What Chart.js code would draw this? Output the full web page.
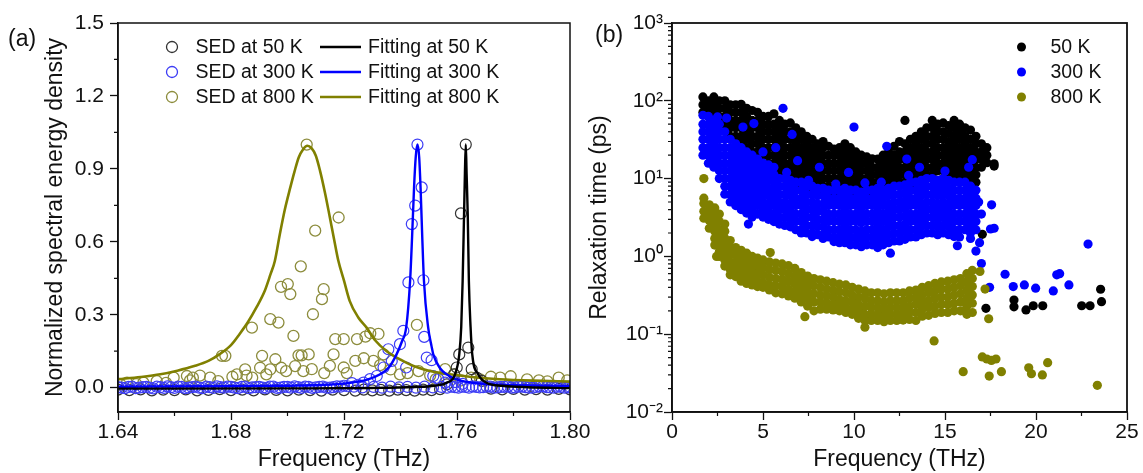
<!DOCTYPE html>
<html><head><meta charset="utf-8">
<script src="https://cdn.jsdelivr.net/npm/chart.js@4/dist/chart.umd.min.js"></script>
<style>
html,body{margin:0;padding:0;background:#fff;width:1143px;height:473px;overflow:hidden;}
#ca{position:absolute;left:0;top:0;width:600px;height:473px;}
#cb{position:absolute;left:580px;top:0;width:563px;height:473px;}
.lbl{position:absolute;font-family:"Liberation Sans",Arial,sans-serif;font-size:23px;line-height:1;color:#111;}
</style></head><body>
<canvas id="ca" width="600" height="473"></canvas>
<canvas id="cb" width="563" height="473"></canvas>
<div class="lbl" style="left:8px;top:27px">(a)</div>
<div class="lbl" style="left:595px;top:23px">(b)</div>
<script>
// ---------- Panel (a) ----------
const xTicksA = [1.64, 1.68, 1.72, 1.76, 1.80];
const xTickLabelsA = ['1.64', '1.68', '1.72', '1.76', '1.80'];
const xMinorA = [1.66, 1.70, 1.74, 1.78];
const yTicksA = [0, 0.3, 0.6, 0.9, 1.2, 1.5];
const yTickLabelsA = ['0.0', '0.3', '0.6', '0.9', '1.2', '1.5'];
const yMinorA = [0.15, 0.45, 0.75, 1.05, 1.35];
const legendA = ['SED at 50 K', 'Fitting at 50 K', 'SED at 300 K', 'Fitting at 300 K', 'SED at 800 K', 'Fitting at 800 K'];

const sed50 = [[1.640,-0.008],[1.644,-0.01],[1.648,-0.007],[1.652,-0.011],[1.656,-0.008],[1.660,-0.01],[1.664,-0.007],[1.668,-0.011],[1.672,-0.009],[1.676,-0.006],[1.680,-0.01],[1.684,-0.008],[1.688,-0.011],[1.692,-0.007],[1.696,-0.009],[1.700,-0.011],[1.704,-0.008],[1.708,-0.01],[1.712,-0.012],[1.716,-0.008],[1.720,-0.01],[1.724,-0.012],[1.727,-0.008],[1.730,-0.011],[1.733,-0.009],[1.736,-0.012],[1.739,-0.008],[1.742,-0.01],[1.745,-0.012],[1.748,-0.008],[1.751,-0.01],[1.754,-0.006],
 [1.7564,0.014],[1.759,0.055],[1.7599,0.083],[1.7608,0.137],[1.7614,0.717],[1.7631,1.0],[1.764,0.165],[1.7652,0.076],[1.767,0.041],[1.7688,0.028],
 [1.772,-0.004],[1.776,-0.007],[1.780,-0.005],[1.784,-0.008],[1.788,-0.006],[1.792,-0.008],[1.796,-0.005],[1.800,-0.007]];

const sed300 = [[1.640,0.002],[1.6425,-0.002],[1.645,0.004],[1.6475,0.0],[1.650,0.003],[1.6525,-0.003],[1.655,0.002],[1.6575,0.005],[1.660,-0.001],[1.6625,0.003],[1.665,0.0],[1.6675,0.004],[1.670,-0.002],[1.6725,0.002],[1.675,0.005],[1.6775,0.0],[1.680,0.003],[1.6825,-0.002],[1.685,0.004],[1.6875,0.001],[1.690,0.003],[1.6925,-0.001],[1.695,0.004],[1.6975,0.0],[1.700,0.003],[1.7025,0.005],[1.705,-0.001],[1.7075,0.003],[1.710,0.001],[1.7125,0.004],[1.715,0.0],[1.7175,0.005],[1.720,0.008],
 [1.64125,0.0],[1.64375,0.003],[1.64625,-0.002],[1.64875,0.002],[1.65125,0.0],[1.65375,0.004],[1.65625,-0.001],[1.65875,0.002],[1.66125,0.004],[1.66375,-0.002],[1.66625,0.002],[1.66875,0.0],[1.67125,0.004],[1.67375,-0.001],[1.67625,0.002],[1.67875,0.004],[1.68125,0.0],[1.68375,0.003],[1.68625,-0.002],[1.68875,0.002],[1.69125,0.0],[1.69375,0.004],[1.69625,-0.001],[1.69875,0.003],[1.70125,0.0],[1.70375,0.002],[1.70625,0.004],[1.70875,-0.001],[1.71125,0.003],[1.71375,0.0],[1.71625,0.002],[1.71875,0.004],[1.72125,0.006],
 [1.7228,0.019],[1.725,0.012],[1.7269,0.021],[1.7292,0.035],[1.7316,0.048],[1.734,0.083],[1.7357,0.158],[1.7369,0.11],[1.7398,0.179],[1.741,0.234],[1.742,0.083],[1.7428,0.433],[1.744,0.673],[1.7452,0.749],[1.746,1.0],[1.7475,0.824],[1.7481,0.442],[1.7484,0.209],[1.7493,0.124],[1.751,0.113],[1.7516,0.048],[1.7534,0.035],[1.7558,0.021],[1.7594,0.023],[1.762,0.016],
 [1.7235,0.004],[1.7265,0.001],[1.7305,0.003],[1.7335,0.0],[1.7365,0.004],[1.7395,0.001],[1.7425,0.003],[1.7455,0.0],[1.7485,0.004],[1.7515,0.001],[1.7545,0.003],[1.7565,0.0],
 [1.758,0.004],[1.7605,0.0],[1.763,0.003],[1.7655,0.005],[1.768,0.001],[1.7705,0.004],[1.773,0.0],[1.7755,0.003],[1.778,0.005],[1.7805,0.001],[1.783,0.004],[1.7855,0.0],[1.788,0.003],[1.7905,0.005],[1.793,0.001],[1.7955,0.004],[1.798,0.0],[1.800,0.003],
 [1.75925,0.002],[1.76175,0.004],[1.76425,0.0],[1.76675,0.003],[1.76925,0.002],[1.77175,0.004],[1.77425,0.001],[1.77675,0.003],[1.77925,0.0],[1.78175,0.004],[1.78425,0.002],[1.78675,0.0],[1.78925,0.004],[1.79175,0.002],[1.79425,0.0],[1.79675,0.003],[1.79925,0.001]];

const sed800 = [[1.641,0.012],[1.6432,0.021],[1.6465,0.015],[1.649,0.021],[1.6537,0.027],[1.657,0.02],[1.6597,0.041],[1.6644,0.048],[1.6655,0.03],[1.6665,0.041],[1.669,0.05],[1.6726,0.041],[1.6755,0.027],[1.6768,0.131],[1.678,0.131],[1.6805,0.045],[1.6821,0.055],[1.685,0.075],[1.6855,0.05],[1.6874,0.247],[1.6875,0.041],[1.691,0.131],[1.6903,0.082],[1.6925,0.055],[1.6939,0.282],[1.6939,0.075],[1.6957,0.117],[1.6968,0.268],[1.6977,0.415],[1.6978,0.082],[1.6995,0.068],[1.7001,0.426],[1.701,0.385],[1.7021,0.213],[1.7027,0.089],[1.7039,0.133],[1.7047,0.499],[1.705,0.133],[1.7056,0.068],[1.7068,1.0],[1.7075,0.137],[1.7086,0.076],[1.709,0.302],[1.7098,0.646],[1.7122,0.364],[1.7128,0.405],[1.713,0.06],[1.715,0.09],[1.7163,0.137],[1.7169,0.2],[1.7181,0.70],[1.7199,0.2],[1.7199,0.083],[1.721,0.06],[1.724,0.11],[1.7246,0.2],[1.727,0.121],[1.7276,0.21],[1.7293,0.224],[1.7304,0.11],[1.7322,0.221],[1.7328,0.093],[1.734,0.137],[1.7365,0.075],[1.7398,0.055],[1.7425,0.06],[1.7458,0.258],[1.7464,0.068],[1.7505,0.05],[1.7525,0.035],[1.7558,0.076],[1.759,0.055],[1.7615,0.03],[1.765,0.041],[1.7682,0.034],[1.772,0.045],[1.7753,0.041],[1.779,0.047],[1.7848,0.034],[1.789,0.03],[1.792,0.026],[1.796,0.041],[1.799,0.03]];

const fit50 = [[1.640,-0.004],[1.700,-0.003],[1.730,-0.001],[1.745,0.003],[1.752,0.008],[1.7563,0.02],[1.7593,0.055],[1.7608,0.137],[1.7615,0.25],[1.7620,0.44],[1.7625,0.714],[1.7628,0.88],[1.7631,1.0],[1.7634,0.88],[1.7638,0.714],[1.7642,0.44],[1.7648,0.25],[1.7654,0.137],[1.7675,0.055],[1.7705,0.02],[1.776,0.008],[1.785,0.002],[1.800,-0.002]];
const fit300 = [[1.640,0.004],[1.680,0.006],[1.700,0.008],[1.712,0.011],[1.722,0.02],[1.728,0.032],[1.7328,0.055],[1.736,0.085],[1.7386,0.137],[1.7405,0.19],[1.742,0.247],[1.7434,0.44],[1.7441,0.62],[1.7448,0.824],[1.7454,0.95],[1.7460,1.0],[1.7466,0.95],[1.7471,0.824],[1.7477,0.62],[1.7483,0.44],[1.7498,0.247],[1.751,0.17],[1.7516,0.137],[1.754,0.08],[1.7563,0.055],[1.760,0.033],[1.7657,0.02],[1.775,0.012],[1.790,0.008],[1.800,0.006]];
const fit800 = [[1.640,0.035],[1.648,0.044],[1.655,0.055],[1.661,0.07],[1.667,0.089],[1.672,0.11],[1.676,0.138],[1.680,0.175],[1.683,0.22],[1.686,0.27],[1.689,0.33],[1.692,0.40],[1.694,0.467],[1.6955,0.52],[1.6973,0.632],[1.699,0.73],[1.701,0.824],[1.7025,0.89],[1.704,0.948],[1.7055,0.98],[1.707,0.995],[1.7085,0.985],[1.710,0.955],[1.7115,0.893],[1.7133,0.80],[1.715,0.70],[1.7165,0.61],[1.718,0.522],[1.720,0.44],[1.722,0.357],[1.725,0.29],[1.728,0.247],[1.731,0.195],[1.735,0.151],[1.740,0.115],[1.7446,0.089],[1.750,0.07],[1.7575,0.055],[1.766,0.043],[1.775,0.035],[1.787,0.029],[1.800,0.025]];

// ---------- Panel (b) ----------
const xTicksB = [0, 5, 10, 15, 20, 25];
const xTickLabelsB = ['0', '5', '10', '15', '20', '25'];
const xMinorB = [2.5, 7.5, 12.5, 17.5, 22.5];
const yTicksB = [0.01, 0.1, 1, 10, 100, 1000];
const yTickLabelsB = ['10\u207B\u00B2', '10\u207B\u00B9', '10\u2070', '10\u00B9', '10\u00B2', '10\u00B3'];
const yMinorB = [0.02,0.03,0.04,0.05,0.06,0.07,0.08,0.09,0.2,0.3,0.4,0.5,0.6,0.7,0.8,0.9,2,3,4,5,6,7,8,9,20,30,40,50,60,70,80,90,200,300,400,500,600,700,800,900];
const legendB = ['50 K', '300 K', '800 K'];

// columns: [frequency, relaxation times...]
const tau50Cols = [
[1.7,112,89,71],[2.0,100,80,63],[2.3,112,89,71,56],[2.6,100,80,63,50],[2.9,100,80,63,50],
[3.2,89,71,56,45,35],[3.5,89,71,56,45,35],[3.8,90,71,56,45,35,28],[4.1,80,63,50,40,32,25],
[4.4,75,56,45,35,28,22],[4.7,71,56,45,35,28,22,17.8],[5.0,63,50,40,32,25,20,15.8],
[5.3,63,50,40,32,25,20,15.8],[5.6,68,50,40,32,25,20,15.8,12.6],[5.9,56,45,35,28,22,17.8,14,11.2],
[6.2,50,40,32,25,20,15.8,12.6,10],[6.5,52,40,32,25,20,15.8,12.6,10],[6.8,45,35,28,22,17.8,14,11.2,9],
[7.1,40,32,25,20,15.8,12.6,10,8],[7.4,35,28,22,17.8,14,11.2,9,7.1],[7.7,32,25,20,15.8,12.6,10,8],
[8.0,28,22,17.8,14,11.2,9,7.1],[8.3,30,25,20,15.8,12.6,10,8],[8.6,26,20,15.8,12.6,10,8,6.3],
[8.9,24,20,15.8,12.6,10,8,6.3],[9.2,25,20,15.8,12.6,10,8,6.3],[9.5,28,22,17.8,14,11.2,9,7.1],
[9.8,25,20,15.8,12.6,10,8,6.3],[10.1,22,17.8,14,11.2,9,7.1,5.6],[10.4,20,15.8,12.6,10,8,6.3],
[10.7,19,15.8,12.6,10,8,6.3],[11.0,18,14,11.2,9,7.1,5.6],[11.3,17.8,14,11.2,9,7.1,5.6],
[11.6,20,15.8,12.6,10,8,6.3],[11.9,24,19,15,12,9.5,7.5],[12.2,26,20,15.8,12.6,10,8],
[12.5,30,22,17.8,14,11.2,9],[12.8,28,22,17.8,14,11.2,9],[13.1,32,25,20,15.8,12.6,10,8],
[13.4,35,28,22,17.8,14,11.2,9],[13.7,40,32,25,20,15.8,12.6,10],[14.0,45,35,28,22,17.8,14,11.2],
[14.3,56,45,35,28,22,17.8,14,11.2],[14.6,50,40,32,25,20,15.8,12.6],[14.9,52,40,32,25,20,15.8,12.6,10],
[15.2,48,38,30,24,19,15,12,9.5],[15.5,56,45,35,28,22,17.8,14,11.2],[15.8,50,40,32,25,20,15.8,12.6,10],
[16.1,45,35,28,22,17.8,14,11.2,9],[16.4,42,32,25,20,15.8,12.6,10],[16.7,35,28,22,17.8,14,11.2,9],
[17.0,28,22,17.8,14],[17.3,25,20,16],[17.7,14.5,15.5]];
const tau50Extra = [[12.8,56],[17.05,1.92],[17.25,0.215],[18.79,0.275],[18.79,0.225],[19.45,0.205],[19.85,0.232],[20.37,0.232],[22.51,0.232],[22.97,0.232],[23.55,0.378],[23.6,0.262]];

const tau300Cols = [
[1.7,65,50,40,32,25,20],[2.0,63,50,40,32,25,20,15.8],[2.3,56,45,35,28,22,17.8,14],
[2.6,50,40,32,25,20,15.8,12.6,10],[2.9,40,32,25,20,15.8,12.6,10,8,6.3],[3.2,32,25,20,15.8,12.6,10,8,6.3,5],
[3.5,28,22,17.8,14,11.2,9,7.1,5.6,4.5],[3.8,25,20,15.8,12.6,10,8,6.3,5,4],[4.1,22,17.8,14,11.2,9,7.1,5.6,4.5,3.6],
[4.4,20,15.8,12.6,10,8,6.3,5,4,3.2],[4.7,17.8,14,11.2,9,7.1,5.6,4.5,3.5],[5.0,15.8,12.6,10,8,6.3,5,4,3.2],
[5.3,15,12,9.5,7.5,6,4.7,3.8,3],[5.6,14,11.2,9,7.1,5.6,4.5,3.5,2.8],[5.9,10,8,6.3,5,4,3.2,2.6],
[6.2,10,8,6.3,5,4,3.2,2.5],[6.5,9.5,7.5,6,4.7,3.8,3,2.4],[6.8,9,7.1,5.6,4.5,3.5,2.8,2.2],
[7.1,9,7.1,5.6,4.5,3.5,2.8,2.2,2],[7.4,8,6.3,5,4,3.2,2.5,2],[7.7,8,6.3,5,4,3.2,2.5,2,1.8],
[8.0,7.5,6,4.7,3.8,3,2.4,1.9],[8.3,7.5,6,4.7,3.8,3,2.4,1.9,1.7],[8.6,7.1,5.6,4.5,3.5,2.8,2.2,1.78],
[8.9,7.1,5.6,4.5,3.5,2.8,2.2,1.78,1.55],[9.2,7.1,5.6,4.5,3.5,2.8,2.2,1.78,1.5],[9.5,7.5,6,4.7,3.8,3,2.4,1.9,1.5],
[9.8,7.1,5.6,4.5,3.5,2.8,2.2,1.78,1.41],[10.1,7.1,5.6,4.5,3.5,2.8,2.2,1.78,1.41],[10.4,6.7,5.3,4.2,3.3,2.7,2.1,1.68,1.33],
[10.7,7.1,5.6,4.5,3.5,2.8,2.2,1.78,1.41],[11.0,7.1,5.6,4.5,3.5,2.8,2.2,1.78,1.41],[11.3,7.5,6,4.7,3.8,3,2.4,1.9,1.5,1.3],
[11.6,7.1,5.6,4.5,3.5,2.8,2.2,1.78,1.41],[11.9,7.5,6,4.7,3.8,3,2.4,1.9,1.5],[12.2,8,6.3,5,4,3.2,2.5,2,1.58],
[12.5,8,6.3,5,4,3.2,2.5,2,1.58],[12.8,8.3,6.6,5.2,4.2,3.3,2.6,2.1,1.66],[13.1,9,7.1,5.6,4.5,3.5,2.8,2.2,1.78],
[13.4,9,7.1,5.6,4.5,3.5,2.8,2.2,1.78],[13.7,9.5,7.5,6,4.7,3.8,3,2.4,1.9],[14.0,10,8,6.3,5,4,3.2,2.5,2],
[14.3,10,8,6.3,5,4,3.2,2.5,2],[14.6,9.5,7.5,6,4.7,3.8,3,2.4,1.9],[14.9,10,8,6.3,5,4,3.2,2.5,2],
[15.2,9.5,7.5,6,4.7,3.8,3,2.4,1.9],[15.5,9,7.1,5.6,4.5,3.5,2.8,2.2,1.8],[15.8,9,7.1,5.6,4.5,3.5,2.8,2.2,1.78],
[16.1,9,7.1,5.6,4.5,3.5,2.8,2.2],[16.4,8,6.3,5,4,3.2,2.5,2,1.7],[16.7,7.1,5.6,4.5,3.5,2.8,2.2]];
const tau300Extra = [[1.8,22],[6.1,80],[4.5,51],[10.0,46],[3.9,46],[5.0,22],[6.6,37],[11.8,26],[16.5,17.5],[12.9,17.8],[6.9,17],[4.2,2.6],[3.0,60],[2.5,62],[5.7,25],[8.1,14],[9.7,12],[13.6,14],[16.3,14],[7.5,9.5],[9.0,8.5],[10.6,8.8],[11.5,9],[13.0,11],[15.0,12.5],[6.3,12],[12.0,1.1],[15.68,1.37],[16.7,1.17],[17.0,0.81],[16.9,1.5],[16.85,5],[17.0,3.5],[17.56,4.6],[17.5,2.25],[17.7,2.3],[17.45,0.40],[18.3,0.59],[18.75,0.41],[19.36,0.43],[19.98,0.39],[20.95,0.36],[21.14,0.58],[21.3,0.6],[21.81,0.43],[22.86,1.44]];

const tau800Cols = [
[1.75,10,5.6,4.8,3.8,3.1],[2.05,4.6,3.7,2.9,2.3],[2.35,4.2,3.3,2.6,2.1,1.7,1.4],
[2.6,3.5,2.8,2.2,1.8,1.45,1.15,1.0],[2.9,2.6,2.1,1.7,1.35,1.1,0.9,0.75],[3.2,1.6,1.3,1.05,0.85,0.68,0.58],
[3.5,1.3,1.05,0.85,0.68,0.55],[3.8,1.2,0.95,0.76,0.6,0.48],[4.1,1.1,0.88,0.7,0.56,0.45],
[4.4,1.0,0.8,0.64,0.52,0.43],[4.7,0.95,0.76,0.6,0.48,0.41],[5.0,0.9,0.72,0.58,0.46,0.4],
[5.35,0.85,0.68,0.54,0.43,0.37],[5.7,0.82,0.66,0.52,0.42,0.34],[6.05,0.8,0.64,0.51,0.41,0.33],
[6.4,0.76,0.6,0.48,0.38,0.31],[6.75,0.7,0.56,0.45,0.36,0.29],[7.1,0.62,0.5,0.4,0.32,0.26],
[7.45,0.56,0.45,0.36,0.29,0.23],[7.8,0.52,0.42,0.33,0.26,0.2],[8.15,0.5,0.4,0.32,0.26,0.21],
[8.5,0.48,0.38,0.31,0.25,0.21],[8.85,0.46,0.37,0.3,0.24,0.205],[9.2,0.44,0.35,0.28,0.23,0.2],
[9.55,0.43,0.34,0.27,0.22,0.19],[9.9,0.4,0.32,0.26,0.21,0.18],[10.25,0.38,0.3,0.24,0.2,0.16],
[10.6,0.36,0.29,0.23,0.18,0.15,0.123],[10.95,0.34,0.27,0.22,0.18,0.15],[11.3,0.34,0.27,0.22,0.18,0.15],
[11.65,0.33,0.26,0.21,0.17,0.145],[12.0,0.34,0.27,0.22,0.18,0.15],[12.35,0.34,0.27,0.22,0.18,0.15],
[12.7,0.34,0.27,0.22,0.18,0.152],[13.05,0.36,0.29,0.23,0.19,0.155],[13.4,0.37,0.3,0.24,0.19,0.15],
[13.75,0.4,0.32,0.26,0.21,0.17],[14.1,0.42,0.34,0.27,0.22,0.175],[14.45,0.45,0.36,0.29,0.23,0.185],
[14.8,0.47,0.38,0.3,0.24,0.19],[15.15,0.48,0.38,0.3,0.24,0.19],[15.5,0.5,0.4,0.32,0.25,0.2],
[15.85,0.52,0.42,0.33,0.26,0.2],[16.2,0.6,0.47,0.37,0.29,0.23,0.18],[16.5,0.66,0.52,0.41,0.32,0.25,0.19]];
const tau800Extra = [[2.45,1.0],[5.4,1.12],[7.3,0.168],[16.92,0.64],[17.2,0.38],[17.4,0.158],[14.4,0.082],[17.05,0.051],[17.3,0.048],[17.55,0.046],[17.8,0.048],[16.0,0.033],[17.43,0.029],[18.1,0.033],[19.6,0.037],[19.75,0.031],[20.35,0.030],[20.64,0.043],[23.37,0.022]];

// ---------- helpers ----------
const FONT = '"Liberation Sans", Arial, Helvetica, sans-serif';
const INK = '#111';
Chart.defaults.font.family = FONT;
Chart.defaults.font.size = 21;
Chart.defaults.color = INK;
const pairs = a => a.map(([x, y]) => ({x, y}));
const cols = a => a.flatMap(([x, ...ys]) => ys.map(y => ({x, y})));

const framePlugin = {
  id: 'frame',
  afterDraw(chart, args, o) {
    const {ctx, chartArea: a} = chart;
    const xs = chart.scales.x, ys = chart.scales.y;
    ctx.save();
    ctx.strokeStyle = INK;
    ctx.lineWidth = 1.2;
    ctx.beginPath();
    o.xMinor.forEach(v => { const p = xs.getPixelForValue(v); ctx.moveTo(p, a.bottom); ctx.lineTo(p, a.bottom + o.len); });
    o.yMinor.forEach(v => { const p = ys.getPixelForValue(v); ctx.moveTo(a.left, p); ctx.lineTo(a.left - o.len, p); });
    ctx.stroke();
    ctx.lineWidth = o.lw;
    ctx.strokeRect(a.left, a.top, a.right - a.left, a.bottom - a.top);
    ctx.restore();
  }
};
const legendPlugin = {
  id: 'panelLegend',
  afterDraw(chart, args, o) {
    const ctx = chart.ctx;
    ctx.save();
    ctx.font = o.size + 'px ' + FONT;
    ctx.textBaseline = 'middle';
    ctx.textAlign = 'left';
    o.items.forEach(it => {
      ctx.strokeStyle = it.color; ctx.fillStyle = it.color;
      if (it.kind === 'ring') {
        ctx.lineWidth = 1.3; ctx.beginPath(); ctx.arc(it.x, it.y, 5.5, 0, Math.PI * 2); ctx.stroke();
      } else if (it.kind === 'dot') {
        ctx.beginPath(); ctx.arc(it.x, it.y, 4.5, 0, Math.PI * 2); ctx.fill();
      } else {
        ctx.lineWidth = 2.5; ctx.beginPath(); ctx.moveTo(it.x, it.y); ctx.lineTo(it.x2, it.y); ctx.stroke();
      }
      ctx.fillStyle = INK;
      ctx.fillText(it.text, it.tx, it.y + 1);
    });
    ctx.restore();
  }
};
const axisCommon = (extra) => Object.assign({
  grid: {drawOnChartArea: false, drawTicks: true, tickLength: 8, tickColor: INK, tickWidth: 1.3},
  border: {display: true, color: INK, width: 1.5}
}, extra);

const BLK = '#000000', BLU = '#0000ff', OLV = '#808000';

// ---------- chart (a) ----------
new Chart(document.getElementById('ca'), {
  type: 'scatter',
  data: {datasets: [
    {label: legendA[0], data: pairs(sed50), pointRadius: 5.5, pointBorderWidth: 1.2, pointBorderColor: '#333333', pointBackgroundColor: 'rgba(0,0,0,0)', order: 6, clip: 0},
    {label: legendA[2], data: pairs(sed300), pointRadius: 5.5, pointBorderWidth: 1.2, pointBorderColor: '#3c3cf5', pointBackgroundColor: 'rgba(0,0,0,0)', order: 5, clip: 0},
    {label: legendA[4], data: pairs(sed800), pointRadius: 5.5, pointBorderWidth: 1.3, pointBorderColor: '#8c8c3c', pointBackgroundColor: 'rgba(0,0,0,0)', order: 7, clip: 0},
    {label: legendA[5], data: pairs(fit800), showLine: true, pointRadius: 0, borderColor: OLV, borderWidth: 2.6, cubicInterpolationMode: 'monotone', order: 3},
    {label: legendA[3], data: pairs(fit300), showLine: true, pointRadius: 0, borderColor: BLU, borderWidth: 2.4, cubicInterpolationMode: 'monotone', order: 2},
    {label: legendA[1], data: pairs(fit50), showLine: true, pointRadius: 0, borderColor: BLK, borderWidth: 2.4, cubicInterpolationMode: 'monotone', order: 1}
  ]},
  options: {
    responsive: false, animation: false, events: [],
    layout: {padding: {top: 23, right: 30, left: 0, bottom: 0}},
    plugins: {
      legend: {display: false}, tooltip: {enabled: false},
      frame: {xMinor: xMinorA, yMinor: yMinorA, len: 4, lw: 1.5},
      panelLegend: {size: 19.5, items: [
        {kind: 'ring', color: '#333333', x: 172, y: 47, tx: 195.5, text: legendA[0]},
        {kind: 'line', color: BLK, x: 320, x2: 361, y: 47, tx: 368, text: legendA[1]},
        {kind: 'ring', color: '#3c3cf5', x: 172, y: 72, tx: 195.5, text: legendA[2]},
        {kind: 'line', color: BLU, x: 320, x2: 361, y: 72, tx: 368, text: legendA[3]},
        {kind: 'ring', color: '#8c8c3c', x: 172, y: 97, tx: 195.5, text: legendA[4]},
        {kind: 'line', color: OLV, x: 320, x2: 361, y: 97, tx: 368, text: legendA[5]}
      ]}
    },
    scales: {
      x: axisCommon({type: 'linear', min: 1.64, max: 1.80,
        afterBuildTicks: s => { s.ticks = xTicksA.map(v => ({value: v})); },
        afterFit: s => { s.height = 61; },
        ticks: {callback: (v, i) => xTickLabelsA[i], padding: 0, maxRotation: 0, autoSkip: false},
        title: {display: true, text: 'Frequency (THz)', font: {size: 23}, padding: {top: 0, bottom: 0}}}),
      y: axisCommon({type: 'linear', min: -0.1, max: 1.5,
        afterBuildTicks: s => { s.ticks = yTicksA.map(v => ({value: v})); },
        afterFit: s => { s.width = 118; },
        ticks: {callback: (v, i) => yTickLabelsA[i], padding: 6, autoSkip: false},
        title: {display: true, text: 'Normalized spectral energy density', font: {size: 23}, padding: {top: 42, bottom: 0}}})
    }
  },
  plugins: [framePlugin, legendPlugin]
});

// ---------- chart (b) ----------
new Chart(document.getElementById('cb'), {
  type: 'scatter',
  data: {datasets: [
    {label: legendB[0], data: cols(tau50Cols).concat(pairs(tau50Extra)), pointRadius: 4.6, pointBorderWidth: 0, pointBackgroundColor: BLK, pointBorderColor: BLK, order: 3},
    {label: legendB[1], data: cols(tau300Cols).concat(pairs(tau300Extra)), pointRadius: 4.6, pointBorderWidth: 0, pointBackgroundColor: BLU, pointBorderColor: BLU, order: 2},
    {label: legendB[2], data: cols(tau800Cols).concat(pairs(tau800Extra)), pointRadius: 4.6, pointBorderWidth: 0, pointBackgroundColor: OLV, pointBorderColor: OLV, order: 1}
  ]},
  options: {
    responsive: false, animation: false, events: [],
    layout: {padding: {top: 23, right: 16, left: 0, bottom: 0}},
    plugins: {
      legend: {display: false}, tooltip: {enabled: false},
      frame: {xMinor: xMinorB, yMinor: yMinorB, len: 4, lw: 1.8},
      panelLegend: {size: 19.5, items: [
        {kind: 'dot', color: BLK, x: 441.5, y: 47, tx: 470.5, text: legendB[0]},
        {kind: 'dot', color: BLU, x: 441.5, y: 72, tx: 470.5, text: legendB[1]},
        {kind: 'dot', color: OLV, x: 441.5, y: 97, tx: 470.5, text: legendB[2]}
      ]}
    },
    scales: {
      x: axisCommon({type: 'linear', min: 0, max: 25,
        afterBuildTicks: s => { s.ticks = xTicksB.map(v => ({value: v})); },
        afterFit: s => { s.height = 61; },
        ticks: {callback: (v, i) => xTickLabelsB[i], padding: 0, maxRotation: 0, autoSkip: false},
        title: {display: true, text: 'Frequency (THz)', font: {size: 23}, padding: {top: 0, bottom: 0}}}),
      y: axisCommon({type: 'logarithmic', min: 0.01, max: 1000,
        afterBuildTicks: s => { s.ticks = yTicksB.map(v => ({value: v})); },
        afterFit: s => { s.width = 92; },
        ticks: {callback: (v, i) => yTickLabelsB[i], padding: 1, autoSkip: false},
        title: {display: true, text: 'Relaxation time (ps)', font: {size: 23}, padding: {top: 6, bottom: 0}}})
    }
  },
  plugins: [framePlugin, legendPlugin]
});
</script>
</body></html>
